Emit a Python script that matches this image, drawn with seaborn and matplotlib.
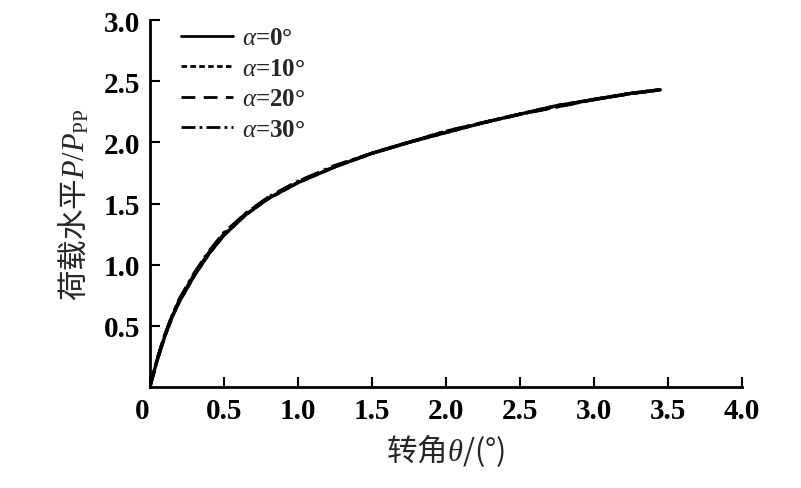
import pandas as pd
import matplotlib
matplotlib.use("Agg")
import matplotlib.pyplot as plt
import seaborn as sns

# rotation angle theta (deg) and load level P/Ppp for each inclination alpha
theta = [0, 0.05, 0.1, 0.15, 0.2, 0.3, 0.4, 0.5, 0.65, 0.8, 1.0, 1.25, 1.5,
         1.75, 2.0, 2.25, 2.5, 2.75, 3.0, 3.25, 3.45]
load_a0 = [0, 0.22, 0.41, 0.57, 0.70, 0.91, 1.09, 1.24, 1.41, 1.54, 1.67, 1.80, 1.91,
           2.00, 2.08, 2.16, 2.23, 2.30, 2.35, 2.40, 2.43]
load_a10 = [0, 0.22, 0.41, 0.57, 0.70, 0.91, 1.09, 1.24, 1.41, 1.54, 1.67, 1.80, 1.91,
            2.00, 2.08, 2.16, 2.23, 2.30, 2.35, 2.40, 2.43]
load_a20 = [0, 0.22, 0.42, 0.58, 0.71, 0.92, 1.10, 1.25, 1.42, 1.55, 1.68, 1.80, 1.91,
            2.00, 2.09, 2.16, 2.23, 2.29, 2.35, 2.40, 2.43]
load_a30 = [0, 0.23, 0.42, 0.58, 0.72, 0.93, 1.11, 1.26, 1.42, 1.55, 1.68, 1.81, 1.91,
            2.00, 2.09, 2.16, 2.23, 2.29, 2.35, 2.40, 2.43]
labels = [r'$\alpha$=0°', r'$\alpha$=10°', r'$\alpha$=20°', r'$\alpha$=30°']

xticks = [0, 0.5, 1.0, 1.5, 2.0, 2.5, 3.0, 3.5, 4.0]
xticklabels = ['0', '0.5', '1.0', '1.5', '2.0', '2.5', '3.0', '3.5', '4.0']
yticks = [0.5, 1.0, 1.5, 2.0, 2.5, 3.0]

frames = []
for lab, ys in zip(labels, [load_a0, load_a10, load_a20, load_a30]):
    frames.append(pd.DataFrame({'theta': theta, 'load': ys, 'case': lab}))
df = pd.concat(frames, ignore_index=True)

sns.set_style('ticks')
plt.rcParams['font.family'] = ['Liberation Serif', 'Noto Sans CJK SC']
plt.rcParams['mathtext.fontset'] = 'custom'
plt.rcParams['mathtext.rm'] = 'Liberation Serif'
plt.rcParams['mathtext.it'] = 'Liberation Serif:italic'
plt.rcParams['mathtext.bf'] = 'Liberation Serif:bold'

fig = plt.figure(figsize=(8.01, 4.89), dpi=100)
ax = fig.add_axes([0.187, 0.2065, 0.739, 0.7505])

dashes = {labels[0]: '', labels[1]: (2, 1.2), labels[2]: (5, 3), labels[3]: (5, 1.5, 1, 1.5)}
sns.lineplot(data=df, x='theta', y='load', style='case', dashes=dashes,
             color='black', linewidth=2.4, ax=ax, sort=False)

ax.set_xlim(0, 4.0)
ax.set_ylim(0, 3.0)
ax.set_xticks(xticks)
ax.set_xticklabels(xticklabels)
ax.set_yticks(yticks)
ax.get_xticklabels()[0].set_horizontalalignment('right')
ax.tick_params(direction='in', length=7, width=1.5, labelsize=21, colors='black', pad=7)
for t in ax.get_xticklabels() + ax.get_yticklabels():
    t.set_fontweight('bold')
for s in ['left', 'bottom']:
    ax.spines[s].set_linewidth(2)
    ax.spines[s].set_color('black')
sns.despine(ax=ax)

# CJK text outside $...$ is drawn with the text's own font, so give labels the CJK family
ax.set_xlabel('转角$\\theta$/(°)', fontsize=22, labelpad=5, family='Noto Sans CJK SC')
ax.set_ylabel('荷载水平$P/P_{\\mathrm{PP}}$', fontsize=22, labelpad=9, family='Noto Sans CJK SC')

leg = ax.legend(loc='upper left', bbox_to_anchor=(0.035, 1.01), frameon=False,
                prop={'size': 18, 'weight': 'bold'}, handlelength=2.1,
                handletextpad=0.35, labelspacing=0.3, borderaxespad=0)
for h in leg.get_lines():
    h.set_linewidth(2)

fig.savefig('out.png', dpi=100)
